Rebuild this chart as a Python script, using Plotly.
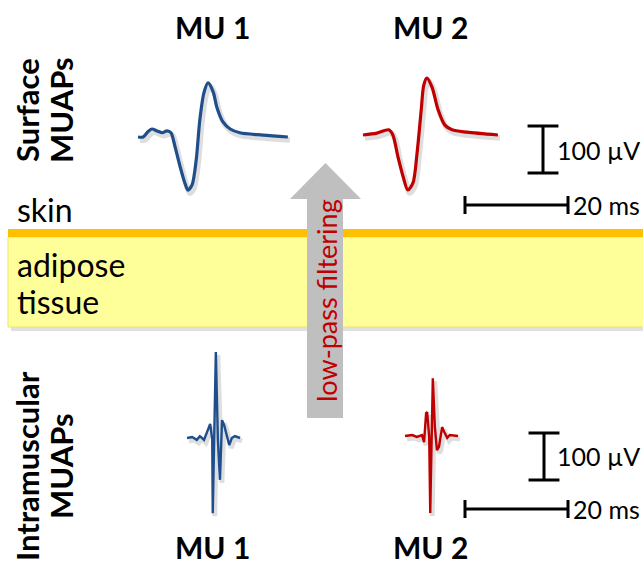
import plotly.graph_objects as go

W, H = 643, 566
PX_PER_MS = 103 / 20.0   # horizontal scale of every waveform panel
PX_PER_UV = 47 / 100.0   # vertical scale of every waveform panel

# ---------------- data ----------------
surf_mu1_t = [0, 1.0, 1.9, 2.7, 3.7, 4.7, 5.6, 6.4, 7.2, 8.2, 9.1, 9.7, 10.5, 11.3,
              12.0, 12.8, 13.6, 14.6, 15.3, 16.5, 17.9, 19.8, 24.3, 29.1]
surf_mu1_uv = [0, 0, 11, 17, 13, 9, 13, 9, -21, -64, -98, -113, -102, -49,
               36, 94, 115, 96, 64, 32, 17, 9, 4, 0]

surf_mu2_t = [0, 2.7, 5.0, 5.8, 6.8, 7.8, 8.7, 9.7, 10.5, 11.3, 11.8, 12.4, 13.4,
              14.6, 15.9, 17.3, 20.2, 26.2]
surf_mu2_uv = [0, 4, 11, 0, -47, -89, -117, -102, -38, 53, 106, 121, 102,
               53, 21, 11, 6, 0]

intra_mu1_t = [0, 1.0, 1.9, 2.5, 3.3, 4.1, 4.5, 4.9, 5.0, 5.6, 6.0, 6.4, 6.8, 7.2,
               7.8, 8.2, 8.7, 9.3, 10.3]
intra_mu1_uv = [0, 2, -4, 4, -4, 21, 30, -4, -160, 183, -4, -89, 38, 28,
                4, -15, 0, 4, 0]

intra_mu2_t = [0, 1.4, 2.3, 3.3, 3.7, 4.1, 4.3, 4.7, 4.9, 5.4, 5.8, 6.2, 6.6, 7.2,
               7.6, 8.2, 8.7, 9.7, 10.3]
intra_mu2_uv = [0, 2, -2, 2, -13, 49, 51, -2, -164, 123, 19, -30, -23, 19,
                9, -4, 2, 0, 0]

SCALE_MS = 20
SCALE_UV = 100

BLUE = "#1F4E8C"
RED = "#C00000"
FONT = "Lato, Carlito, Calibri, sans-serif"

fig = go.Figure()
layout_axes = {}
_n = [1]


def panel(x0px, y0px, trange, arange):
    """Create an axis pair whose data origin (t=0, amp=0) sits at pixel (x0px, y0px)."""
    _n[0] += 1
    k = _n[0]
    xd = [(x0px + trange[0] * PX_PER_MS) / W, (x0px + trange[1] * PX_PER_MS) / W]
    yd = [(H - (y0px - arange[0] * PX_PER_UV)) / H, (H - (y0px - arange[1] * PX_PER_UV)) / H]
    common = dict(visible=False, showgrid=False, zeroline=False, fixedrange=True)
    layout_axes[f"xaxis{k}"] = dict(domain=xd, range=list(trange), anchor=f"y{k}", **common)
    layout_axes[f"yaxis{k}"] = dict(domain=yd, range=list(arange), anchor=f"x{k}", **common)
    return f"x{k}", f"y{k}"


def waveform(t, uv, x0, y0, color, width, shape):
    # soft shadow (same data, panel shifted by a few px)
    xa, ya = panel(x0 + 2, y0 + 3, (-3, 35), (-220, 220))
    fig.add_trace(go.Scatter(x=t, y=uv, mode="lines", xaxis=xa, yaxis=ya, hoverinfo="skip",
                             line=dict(color="rgba(0,0,0,0.13)", width=width + 2.5,
                                       shape=shape, smoothing=0.8)))
    xa, ya = panel(x0, y0, (-3, 35), (-220, 220))
    fig.add_trace(go.Scatter(x=t, y=uv, mode="lines", xaxis=xa, yaxis=ya,
                             line=dict(color=color, width=width, shape=shape, smoothing=0.8)))


def scalebars(hx0, hy0, vx0, vy0):
    cap_uv = 19
    xa, ya = panel(hx0, hy0, (-2, 25), (-40, 40))
    fig.add_trace(go.Scatter(x=[0, SCALE_MS, None, 0, 0, None, SCALE_MS, SCALE_MS],
                             y=[0, 0, None, -cap_uv, cap_uv, None, -cap_uv, cap_uv],
                             mode="lines", xaxis=xa, yaxis=ya,
                             line=dict(color="black", width=3)))
    cap_ms = 3
    xa, ya = panel(vx0, vy0, (-5, 5), (-20, 120))
    fig.add_trace(go.Scatter(x=[0, 0, None, -cap_ms, cap_ms, None, -cap_ms, cap_ms],
                             y=[0, SCALE_UV, None, 0, 0, None, SCALE_UV, SCALE_UV],
                             mode="lines", xaxis=xa, yaxis=ya,
                             line=dict(color="black", width=3)))


waveform(surf_mu1_t, surf_mu1_uv, 138, 137, BLUE, 3.2, "spline")
waveform(surf_mu2_t, surf_mu2_uv, 363, 135, RED, 3.2, "spline")
waveform(intra_mu1_t, intra_mu1_uv, 187, 438, BLUE, 2.4, "linear")
waveform(intra_mu2_t, intra_mu2_uv, 405, 436, RED, 2.4, "linear")

scalebars(465, 205, 543, 173)
scalebars(465, 509, 544, 480)

# ---------------- background shapes (pixel canvas) ----------------
shapes = [
    dict(type="rect", x0=11, x1=646, y0=240, y1=331, fillcolor="rgba(0,0,0,0.12)",
         line=dict(width=0), layer="below"),
    dict(type="rect", x0=8, x1=645, y0=237, y1=327, fillcolor="#FFFF99",
         line=dict(color="#EDE36A", width=1), layer="below"),
    dict(type="rect", x0=8, x1=645, y0=229, y1=237, fillcolor="#FFC000",
         line=dict(width=0), layer="below"),
    dict(type="path", path="M307,418 L307,199 L290,199 L325.5,163 L361,199 L343,199 L343,418 Z",
         fillcolor="#BFBFBF", line=dict(width=0), layer="below"),
]

ann = []


def text(s, x, y, size, bold=False, angle=0, color="black", xanchor="center"):
    ann.append(dict(text=f"<b>{s}</b>" if bold else s, x=x, y=y, xref="x", yref="y",
                    showarrow=False, textangle=angle, xanchor=xanchor, yanchor="middle",
                    font=dict(family=FONT, size=size, color=color)))


text("MU 1", 212, 27, 30, bold=True)
text("MU 2", 430, 27, 30, bold=True)
text("MU 1", 212, 547, 30, bold=True)
text("MU 2", 430, 547, 30, bold=True)
text("Surface", 27, 110, 31, bold=True, angle=-90)
text("MUAPs", 61, 110, 31, bold=True, angle=-90)
text("Intramuscular", 27, 466, 31, bold=True, angle=-90)
text("MUAPs", 61, 466, 31, bold=True, angle=-90)
text("skin", 15, 209, 32, xanchor="left")
text("adipose", 15, 264, 32, xanchor="left")
text("tissue", 15, 301, 32, xanchor="left")
text("low-pass filtering", 326, 301, 27, angle=-90, color=RED)
text("100 µV", 555, 150, 25, xanchor="left")
text("20 ms", 571, 205, 25, xanchor="left")
text("100 µV", 555, 456, 25, xanchor="left")
text("20 ms", 571, 509, 25, xanchor="left")

fig.update_layout(
    width=W, height=H,
    margin=dict(l=0, r=0, t=0, b=0),
    paper_bgcolor="white", plot_bgcolor="rgba(0,0,0,0)",
    showlegend=False,
    xaxis=dict(domain=[0, 1], range=[0, W], visible=False, fixedrange=True),
    yaxis=dict(domain=[0, 1], range=[H, 0], visible=False, fixedrange=True),
    shapes=shapes, annotations=ann,
    **layout_axes,
)

fig.write_html("out.html")
